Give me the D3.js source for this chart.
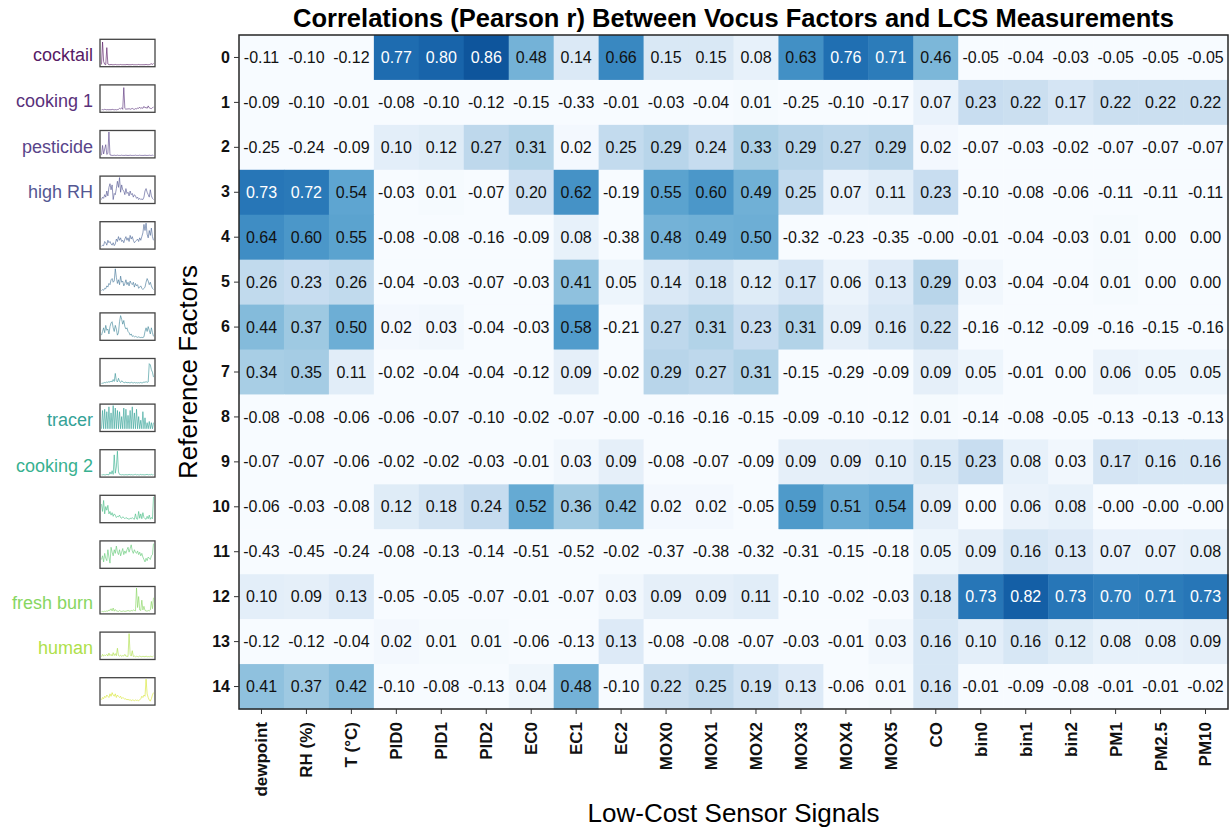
<!DOCTYPE html>
<html>
<head>
<meta charset="utf-8">
<script src="https://cdn.jsdelivr.net/npm/d3@7"></script>
<style>
  body { margin: 0; background: #fff; }
  text { font-family: "Liberation Sans", Arial, sans-serif; }
</style>
</head>
<body>
<script>
var width = 1231,
    height = 830;

// sensor signals (columns) and reference factors (rows)
var signals = ["dewpoint", "RH (%)", "T (\u00B0C)", "PID0", "PID1", "PID2", "EC0", "EC1", "EC2",
    "MOX0", "MOX1", "MOX2", "MOX3", "MOX4", "MOX5", "CO", "bin0", "bin1", "bin2", "PM1", "PM2.5", "PM10"];
var factors = d3.range(15);
var factorNames = ["cocktail", "cooking 1", "pesticide", "high RH", "", "", "", "", "tracer", "cooking 2",
    "", "", "fresh burn", "human", ""];

// correlation values, one row per factor (-0.001 is shown as -0.00)
var r0  = [-0.11, -0.10, -0.12, 0.77, 0.80, 0.86, 0.48, 0.14, 0.66, 0.15, 0.15, 0.08, 0.63, 0.76, 0.71, 0.46, -0.05, -0.04, -0.03, -0.05, -0.05, -0.05];
var r1  = [-0.09, -0.10, -0.01, -0.08, -0.10, -0.12, -0.15, -0.33, -0.01, -0.03, -0.04, 0.01, -0.25, -0.10, -0.17, 0.07, 0.23, 0.22, 0.17, 0.22, 0.22, 0.22];
var r2  = [-0.25, -0.24, -0.09, 0.10, 0.12, 0.27, 0.31, 0.02, 0.25, 0.29, 0.24, 0.33, 0.29, 0.27, 0.29, 0.02, -0.07, -0.03, -0.02, -0.07, -0.07, -0.07];
var r3  = [0.73, 0.72, 0.54, -0.03, 0.01, -0.07, 0.20, 0.62, -0.19, 0.55, 0.60, 0.49, 0.25, 0.07, 0.11, 0.23, -0.10, -0.08, -0.06, -0.11, -0.11, -0.11];
var r4  = [0.64, 0.60, 0.55, -0.08, -0.08, -0.16, -0.09, 0.08, -0.38, 0.48, 0.49, 0.50, -0.32, -0.23, -0.35, -0.001, -0.01, -0.04, -0.03, 0.01, 0.00, 0.00];
var r5  = [0.26, 0.23, 0.26, -0.04, -0.03, -0.07, -0.03, 0.41, 0.05, 0.14, 0.18, 0.12, 0.17, 0.06, 0.13, 0.29, 0.03, -0.04, -0.04, 0.01, 0.00, 0.00];
var r6  = [0.44, 0.37, 0.50, 0.02, 0.03, -0.04, -0.03, 0.58, -0.21, 0.27, 0.31, 0.23, 0.31, 0.09, 0.16, 0.22, -0.16, -0.12, -0.09, -0.16, -0.15, -0.16];
var r7  = [0.34, 0.35, 0.11, -0.02, -0.04, -0.04, -0.12, 0.09, -0.02, 0.29, 0.27, 0.31, -0.15, -0.29, -0.09, 0.09, 0.05, -0.01, 0.00, 0.06, 0.05, 0.05];
var r8  = [-0.08, -0.08, -0.06, -0.06, -0.07, -0.10, -0.02, -0.07, -0.001, -0.16, -0.16, -0.15, -0.09, -0.10, -0.12, 0.01, -0.14, -0.08, -0.05, -0.13, -0.13, -0.13];
var r9  = [-0.07, -0.07, -0.06, -0.02, -0.02, -0.03, -0.01, 0.03, 0.09, -0.08, -0.07, -0.09, 0.09, 0.09, 0.10, 0.15, 0.23, 0.08, 0.03, 0.17, 0.16, 0.16];
var r10 = [-0.06, -0.03, -0.08, 0.12, 0.18, 0.24, 0.52, 0.36, 0.42, 0.02, 0.02, -0.05, 0.59, 0.51, 0.54, 0.09, 0.00, 0.06, 0.08, -0.001, -0.001, -0.001];
var r11 = [-0.43, -0.45, -0.24, -0.08, -0.13, -0.14, -0.51, -0.52, -0.02, -0.37, -0.38, -0.32, -0.31, -0.15, -0.18, 0.05, 0.09, 0.16, 0.13, 0.07, 0.07, 0.08];
var r12 = [0.10, 0.09, 0.13, -0.05, -0.05, -0.07, -0.01, -0.07, 0.03, 0.09, 0.09, 0.11, -0.10, -0.02, -0.03, 0.18, 0.73, 0.82, 0.73, 0.70, 0.71, 0.73];
var r13 = [-0.12, -0.12, -0.04, 0.02, 0.01, 0.01, -0.06, -0.13, 0.13, -0.08, -0.08, -0.07, -0.03, -0.01, 0.03, 0.16, 0.10, 0.16, 0.12, 0.08, 0.08, 0.09];
var r14 = [0.41, 0.37, 0.42, -0.10, -0.08, -0.13, 0.04, 0.48, -0.10, 0.22, 0.25, 0.19, 0.13, -0.06, 0.01, 0.16, -0.01, -0.09, -0.08, -0.01, -0.01, -0.02];
var corr = [r0, r1, r2, r3, r4, r5, r6, r7, r8, r9, r10, r11, r12, r13, r14];

// factor time series (normalised)
var s0  = [0.03, 0.95, 0.15, 0.04, 0.02, 0.72, 0.05, 0.02, 0.02, 0.03, 0.02, 0.02, 0.02, 0.03, 0.02, 0.02, 0.02, 0.02, 0.03, 0.02, 0.02, 0.02, 0.02, 0.02, 0.03, 0.02, 0.02, 0.02, 0.02, 0.03, 0.02, 0.02, 0.02, 0.02, 0.02, 0.03, 0.02, 0.02, 0.02, 0.02, 0.02, 0.02, 0.03, 0.02, 0.02, 0.02, 0.04, 0.06, 0.03, 0.08];
var s1  = [0.04, 0.05, 0.04, 0.06, 0.05, 0.04, 0.05, 0.04, 0.05, 0.04, 0.06, 0.05, 0.04, 0.05, 0.04, 0.05, 0.06, 0.10, 0.08, 0.12, 0.06, 0.95, 0.10, 0.06, 0.08, 0.07, 0.09, 0.06, 0.08, 0.10, 0.07, 0.06, 0.09, 0.07, 0.12, 0.10, 0.15, 0.09, 0.13, 0.10, 0.18, 0.12, 0.14, 0.10, 0.20, 0.12, 0.10, 0.09, 0.13, 0.15];
var s2  = [0.05, 0.45, 0.10, 0.30, 0.48, 0.08, 0.12, 1.00, 0.06, 0.05, 0.04, 0.04, 0.05, 0.04, 0.04, 0.05, 0.04, 0.04, 0.04, 0.05, 0.04, 0.04, 0.04, 0.05, 0.04, 0.04, 0.04, 0.05, 0.04, 0.04, 0.04, 0.04, 0.05, 0.04, 0.04, 0.04, 0.05, 0.04, 0.04, 0.04, 0.04, 0.05, 0.04, 0.04, 0.04, 0.05, 0.04, 0.04, 0.05, 0.04];
var s3  = [0.10, 0.20, 0.15, 0.30, 0.20, 0.45, 0.25, 0.60, 0.75, 0.50, 0.70, 0.10, 0.35, 0.30, 0.55, 0.85, 0.60, 1.00, 0.40, 0.70, 0.50, 0.45, 0.30, 0.55, 0.35, 0.40, 0.25, 0.45, 0.30, 0.35, 0.20, 0.30, 0.25, 0.15, 0.20, 0.10, 0.15, 0.10, 0.12, 0.10, 0.20, 0.45, 0.55, 0.40, 0.30, 0.20, 0.50, 0.25, 0.15, 0.10];
var s4  = [0.05, 0.10, 0.08, 0.25, 0.20, 0.10, 0.30, 0.20, 0.25, 0.15, 0.10, 0.20, 0.08, 0.15, 0.35, 0.25, 0.45, 0.30, 0.40, 0.25, 0.30, 0.20, 0.35, 0.45, 0.30, 0.40, 0.25, 0.50, 0.35, 0.45, 0.30, 0.20, 0.25, 0.30, 0.35, 0.25, 0.40, 0.30, 0.45, 0.60, 0.95, 0.70, 1.00, 0.55, 0.40, 0.70, 0.50, 0.80, 0.45, 0.30];
var s5  = [0.10, 0.15, 0.12, 0.20, 0.18, 0.30, 0.25, 0.40, 0.35, 0.55, 0.60, 0.45, 0.50, 1.00, 0.65, 0.40, 0.55, 0.35, 0.70, 0.45, 0.50, 0.30, 0.40, 0.55, 0.35, 0.45, 0.30, 0.50, 0.40, 0.35, 0.45, 0.25, 0.40, 0.30, 0.35, 0.20, 0.25, 0.30, 0.20, 0.15, 0.20, 0.25, 0.45, 0.60, 0.50, 0.35, 0.45, 0.30, 0.20, 0.15];
var s6  = [0.15, 0.30, 0.45, 0.25, 0.55, 0.35, 0.40, 0.20, 0.50, 0.65, 0.70, 0.45, 0.30, 0.55, 0.40, 0.15, 0.25, 0.70, 0.95, 0.80, 0.60, 0.75, 0.50, 0.40, 0.45, 0.30, 0.25, 0.15, 0.20, 0.10, 0.12, 0.08, 0.10, 0.08, 0.06, 0.08, 0.06, 0.05, 0.06, 0.05, 0.08, 0.30, 0.45, 0.30, 0.50, 0.35, 0.20, 0.45, 0.25, 0.10];
var s7  = [0.04, 0.05, 0.06, 0.08, 0.07, 0.10, 0.08, 0.12, 0.09, 0.14, 0.10, 0.20, 0.12, 0.45, 0.15, 0.10, 0.25, 0.12, 0.08, 0.15, 0.10, 0.08, 0.07, 0.10, 0.06, 0.08, 0.07, 0.06, 0.09, 0.07, 0.06, 0.08, 0.06, 0.07, 0.06, 0.07, 0.06, 0.08, 0.06, 0.07, 0.10, 0.08, 0.12, 0.08, 0.10, 0.85, 0.80, 0.60, 0.50, 0.30];
var s8  = [0.05, 0.80, 0.05, 0.85, 0.05, 0.75, 0.05, 0.95, 0.05, 0.70, 0.05, 1.00, 0.05, 0.90, 0.05, 0.80, 0.05, 0.75, 0.05, 0.55, 0.05, 0.90, 0.05, 0.85, 0.05, 0.60, 0.05, 0.80, 0.05, 0.95, 0.05, 0.70, 0.05, 0.85, 0.05, 0.55, 0.05, 0.40, 0.05, 0.75, 0.05, 0.50, 0.05, 0.30, 0.05, 0.35, 0.05, 0.30, 0.05, 0.30];
var s9  = [0.03, 0.03, 0.04, 0.03, 0.03, 0.05, 0.04, 0.03, 0.15, 0.06, 0.20, 0.05, 0.85, 0.10, 0.35, 1.00, 0.15, 0.05, 0.04, 0.03, 0.04, 0.03, 0.03, 0.04, 0.03, 0.03, 0.05, 0.03, 0.04, 0.03, 0.03, 0.04, 0.05, 0.03, 0.04, 0.03, 0.03, 0.05, 0.03, 0.04, 0.03, 0.03, 0.04, 0.05, 0.03, 0.04, 0.03, 0.05, 0.03, 0.04];
var s10 = [0.70, 0.40, 0.85, 0.30, 0.60, 0.45, 0.65, 0.30, 0.40, 0.25, 0.35, 0.20, 0.30, 0.25, 0.15, 0.20, 0.18, 0.25, 0.15, 0.12, 0.18, 0.15, 0.10, 0.15, 0.12, 0.10, 0.08, 0.12, 0.10, 0.15, 0.10, 0.08, 0.30, 0.10, 0.08, 0.40, 0.12, 0.30, 0.10, 0.35, 0.15, 0.10, 0.08, 0.20, 0.10, 0.25, 0.08, 0.15, 0.10, 1.00];
var s11 = [0.30, 0.45, 0.20, 0.55, 0.35, 0.25, 0.70, 0.40, 0.15, 0.80, 0.60, 0.45, 0.70, 0.55, 0.85, 0.60, 0.50, 0.70, 0.45, 0.60, 0.75, 0.50, 0.65, 0.55, 0.70, 0.80, 0.60, 0.75, 0.90, 0.65, 0.55, 0.70, 0.60, 0.55, 0.65, 0.50, 0.60, 0.45, 0.55, 0.40, 0.30, 0.20, 0.35, 0.25, 0.40, 0.35, 0.30, 0.45, 0.50, 0.95];
var s12 = [0.03, 0.04, 0.03, 0.05, 0.04, 0.06, 0.05, 0.10, 0.08, 0.15, 0.06, 0.18, 0.05, 0.12, 0.06, 0.05, 0.04, 0.08, 0.05, 0.04, 0.05, 0.06, 0.04, 0.05, 0.06, 0.08, 0.06, 0.05, 0.08, 0.06, 0.10, 0.08, 0.06, 1.00, 0.20, 0.65, 0.10, 0.08, 0.50, 0.10, 0.25, 0.08, 0.06, 0.05, 0.08, 0.06, 0.10, 0.45, 0.15, 0.60];
var s13 = [0.05, 0.15, 0.08, 0.12, 0.10, 0.15, 0.08, 0.20, 0.10, 0.15, 0.08, 0.22, 0.10, 0.18, 0.09, 0.40, 0.10, 0.08, 0.12, 0.06, 0.10, 0.08, 0.15, 0.07, 0.08, 0.06, 1.00, 0.15, 0.08, 0.30, 0.06, 0.08, 0.05, 0.07, 0.06, 0.05, 0.08, 0.06, 0.05, 0.07, 0.06, 0.05, 0.08, 0.05, 0.06, 0.05, 0.07, 0.06, 0.05, 0.08];
var s14 = [0.15, 0.25, 0.20, 0.30, 0.25, 0.35, 0.30, 0.25, 0.40, 0.30, 0.45, 0.35, 0.30, 0.40, 0.25, 0.35, 0.30, 0.25, 0.30, 0.20, 0.25, 0.22, 0.18, 0.20, 0.15, 0.18, 0.14, 0.16, 0.12, 0.15, 0.14, 0.12, 0.15, 0.13, 0.14, 0.12, 0.15, 0.20, 0.30, 0.25, 0.35, 0.30, 1.00, 0.40, 0.25, 0.15, 0.10, 0.20, 0.35, 0.45];
var series = [s0, s1, s2, s3, s4, s5, s6, s7, s8, s9, s10, s11, s12, s13, s14];

var hm = {left: 239, top: 35, right: 1228, bottom: 709};

var x = d3.scaleBand()
    .domain(signals)
    .range([hm.left, hm.right]);

var y = d3.scaleBand()
    .domain(factors)
    .range([hm.top, hm.bottom]);

var color = d3.scaleSequential(d3.interpolateBlues)
    .domain([0, 1])
    .clamp(true);

// factor colours: viridis, faded a little
function factorColor(i) {
    var c = d3.color(d3.interpolateViridis(i / 15));
    return d3.interpolateRgb(c, "#fff")(0.1);
}

var svg = d3.select("body")
    .append("svg")
    .attr("width", width)
    .attr("height", height);

var cells = [];
corr.forEach(function(row, i) {
    row.forEach(function(v, j) {
        cells.push({row: i, col: signals[j], v: v});
    });
});

svg.append("g")
    .selectAll("rect")
    .data(cells)
    .enter()
    .append("rect")
    .attr("x", function(d) { return x(d.col); })
    .attr("y", function(d) { return y(d.row); })
    .attr("width", x.bandwidth() + 0.5)
    .attr("height", y.bandwidth() + 0.5)
    .attr("fill", function(d) { return color(d.v); });

svg.append("g")
    .selectAll("text")
    .data(cells)
    .enter()
    .append("text")
    .attr("x", function(d) { return x(d.col) + x.bandwidth() / 2; })
    .attr("y", function(d) { return y(d.row) + y.bandwidth() / 2; })
    .attr("dy", "0.35em")
    .attr("text-anchor", "middle")
    .style("font-size", "16px")
    .attr("fill", function(d) { return d.v >= 0.695 ? "#fff" : "#111"; })
    .text(function(d) { return d.v.toFixed(2); });

// frame
svg.append("rect")
    .attr("x", hm.left)
    .attr("y", hm.top)
    .attr("width", hm.right - hm.left)
    .attr("height", hm.bottom - hm.top)
    .attr("fill", "none")
    .attr("stroke", "#262626")
    .attr("stroke-width", 1.5);

// axes
var yAxis = svg.append("g")
    .attr("transform", "translate(" + hm.left + ",0)")
    .call(d3.axisLeft(y).tickSize(5).tickPadding(4));
yAxis.select(".domain").remove();
yAxis.attr("font-size", 16).attr("font-weight", "bold").attr("font-family", null);
yAxis.selectAll("text").attr("fill", "#111");
yAxis.selectAll("line").attr("stroke", "#333");

var xAxis = svg.append("g")
    .attr("transform", "translate(0," + hm.bottom + ")")
    .call(d3.axisBottom(x).tickSize(5));
xAxis.select(".domain").remove();
xAxis.attr("font-size", 17).attr("font-weight", "bold").attr("font-family", null);
xAxis.selectAll("text")
    .attr("transform", "rotate(-90)")
    .attr("text-anchor", "end")
    .attr("x", -13)
    .attr("y", 0)
    .attr("dy", "0.35em")
    .attr("fill", "#111");
xAxis.selectAll("line").attr("stroke", "#333");

// titles
svg.append("text")
    .attr("x", (hm.left + hm.right) / 2)
    .attr("y", 27)
    .attr("text-anchor", "middle")
    .style("font-size", "25.5px")
    .style("font-weight", "bold")
    .text("Correlations (Pearson r) Between Vocus Factors and LCS Measurements");

svg.append("text")
    .attr("x", (hm.left + hm.right) / 2)
    .attr("y", 822)
    .attr("text-anchor", "middle")
    .style("font-size", "26px")
    .text("Low-Cost Sensor Signals");

svg.append("text")
    .attr("transform", "translate(197," + ((hm.top + hm.bottom) / 2) + ") rotate(-90)")
    .attr("text-anchor", "middle")
    .style("font-size", "26px")
    .text("Reference Factors");

// factor thumbnails on the left
var box = {left: 100, width: 55, height: 27.4, top: 39.3, step: 45.6};

var thumbs = svg.append("g")
    .selectAll("g.thumb")
    .data(series)
    .enter()
    .append("g")
    .attr("class", "thumb")
    .attr("transform", function(d, i) {
        return "translate(" + box.left + "," + (box.top + i * box.step) + ")";
    });

thumbs.append("path")
    .attr("fill", "none")
    .attr("stroke", function(d, i) { return factorColor(i); })
    .attr("stroke-width", 0.7)
    .attr("stroke-opacity", 0.9)
    .attr("d", function(d) {
        var sx = d3.scaleLinear().domain([0, d.length - 1]).range([1.5, box.width - 1.5]);
        var sy = d3.scaleLinear().domain([0, 1]).range([box.height - 1.5, 1.5]);
        return d3.line()
            .x(function(v, k) { return sx(k); })
            .y(function(v) { return sy(v); })(d);
    });

thumbs.append("rect")
    .attr("width", box.width)
    .attr("height", box.height)
    .attr("fill", "none")
    .attr("stroke", "#444")
    .attr("stroke-width", 1.3);

thumbs.append("text")
    .attr("x", -7)
    .attr("y", box.height / 2 + 2)
    .attr("dy", "0.35em")
    .attr("text-anchor", "end")
    .style("font-size", "18px")
    .attr("fill", function(d, i) { return factorColor(i); })
    .text(function(d, i) { return factorNames[i]; });
</script>
</body>
</html>
